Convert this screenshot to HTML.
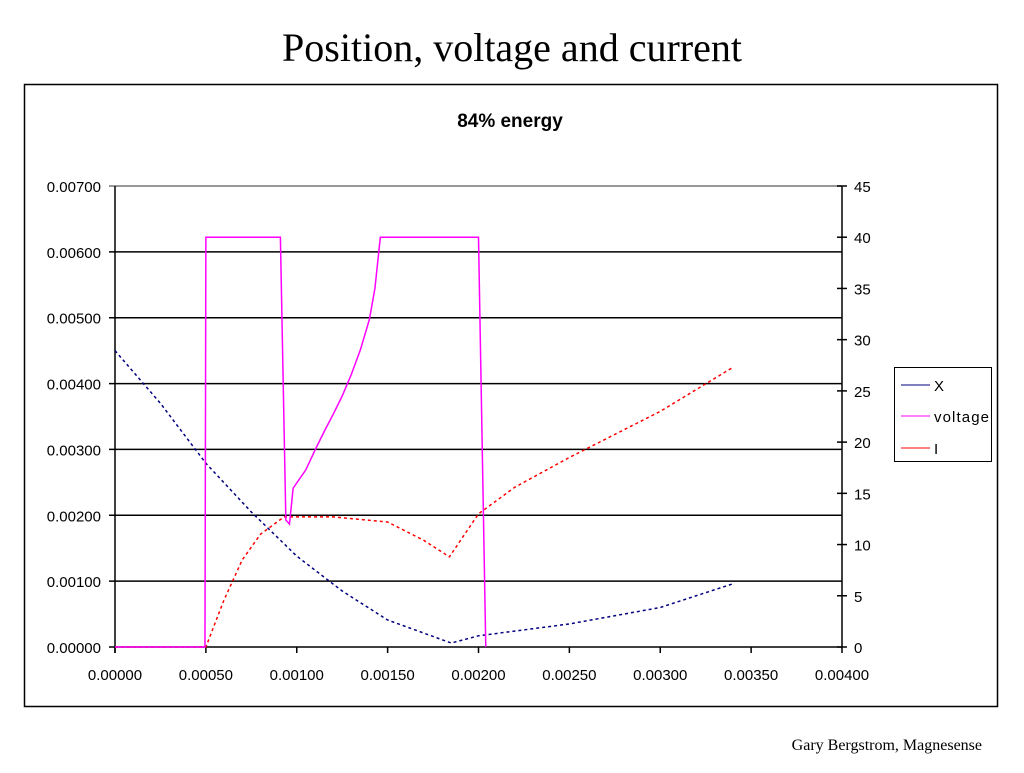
<!DOCTYPE html>
<html><head><meta charset="utf-8"><style>
body{margin:0;background:#fff;width:1024px;height:768px;overflow:hidden}
svg text{font-family:"Liberation Sans",sans-serif}
</style></head><body>
<svg id="chart" width="1024" height="768">
<text x="512" y="61" text-anchor="middle" style="font-family:'Liberation Serif',serif;font-size:40px">Position, voltage and current</text>
<rect x="24.5" y="84.5" width="973" height="622" fill="none" stroke="#000" stroke-width="1.5"/>
<text x="510" y="127" text-anchor="middle" font-size="19" font-weight="bold">84% energy</text>
<text x="982" y="750" text-anchor="end" style="font-family:'Liberation Serif',serif;font-size:16px">Gary Bergstrom, Magnesense</text>
<g id="plot"></g>
<g>
<rect x="894.5" y="367.5" width="97" height="94" fill="#fff" stroke="#000"/>
<line x1="901" y1="385" x2="930" y2="385" stroke="#000080"/>
<text x="934" y="391" font-size="15">X</text>
<line x1="901" y1="416" x2="930" y2="416" stroke="#ff00ff"/>
<text x="934" y="422" font-size="15" textLength="55">voltage</text>
<line x1="901" y1="448" x2="930" y2="448" stroke="#ff0000"/>
<text x="934" y="454" font-size="15">I</text>
</g>
</svg>
<script>
const xTicks=[0,0.0005,0.001,0.0015,0.002,0.0025,0.003,0.0035,0.004];
const yTicks=[0,0.001,0.002,0.003,0.004,0.005,0.006,0.007];
const y2Ticks=[0,5,10,15,20,25,30,35,40,45];
const xT=[0,0.00025,0.0005,0.00075,0.001,0.00125,0.0015,0.00185,0.002,0.0025,0.003,0.0034];
const xV=[0.0045,0.0037,0.00279,0.00205,0.00138,0.00085,0.00041,0.00006,0.00017,0.00035,0.0006,0.00096];
const vT=[0,0.000495,0.0005,0.00091,0.00094,0.00096,0.00098,0.00105,0.0011,0.00115,0.0012,0.00125,0.0013,0.00135,0.0014,0.00143,0.00146,0.002,0.00204];
const vV=[0,0,40,40,12.4,12,15.5,17.3,19.2,21,22.7,24.5,26.6,29,32,35,40,40,0];
const iT=[0,0.0005,0.0006,0.0007,0.0008,0.00093,0.0012,0.0015,0.0017,0.00184,0.002,0.0022,0.0025,0.003,0.0034];
const iV=[0,0,4.6,8.5,11,12.7,12.7,12.2,10.4,8.8,13,15.6,18.5,23,27.3];
const L=115,R=842,T=186,B=647;
const sx=v=>L+v/0.004*(R-L), sy=v=>B-v/0.007*(B-T), sy2=v=>B-v/45*(B-T);
const ns="http://www.w3.org/2000/svg", g=document.getElementById('plot');
function mk(t,a){const e=document.createElementNS(ns,t);for(const k in a)e.setAttribute(k,a[k]);g.appendChild(e);return e;}
yTicks.forEach(v=>{const y=sy(v);
const ln=mk('line',{x1:L-6,x2:R,y1:y,y2:y,stroke:v==0.007?'#777':'#000','stroke-width':1.5});


const t=mk('text',{x:L-14,y:y+6,'text-anchor':'end','font-size':15});t.textContent=v.toFixed(5);

});
y2Ticks.forEach(v=>{const y=sy2(v);
const ln=mk('line',{x1:R-5,x2:R+5,y1:y,y2:y,stroke:'#000','stroke-width':1.5});


const t=mk('text',{x:R+12,y:y+6,'font-size':15});t.textContent=v;

});
xTicks.forEach(v=>{const x=sx(v);
const ln=mk('line',{x1:x,x2:x,y1:B,y2:B+6,stroke:'#000','stroke-width':1.5});


const t=mk('text',{x:x,y:B+33,'text-anchor':'middle','font-size':15});t.textContent=v.toFixed(5);

});
const ax=mk('line',{x1:L,x2:L,y1:T,y2:B+6,stroke:'#000','stroke-width':1.5});


const ax2=mk('line',{x1:R,x2:R,y1:T,y2:B,stroke:'#000','stroke-width':1.5});


function series(ts,vs,f,col,dash,name){
const p=mk('polyline',{points:ts.map((t,i)=>sx(t)+','+f(vs[i])).join(' '),fill:'none',stroke:col,'stroke-width':1.5,'stroke-dasharray':dash});

}
series(xT,xV,sy,'#000080','3 3','series-x');
series(iT,iV,sy2,'#ff0000','3 3','series-i');
series(vT,vV,sy2,'#ff00ff','none','series-voltage');
</script>
</body></html>
